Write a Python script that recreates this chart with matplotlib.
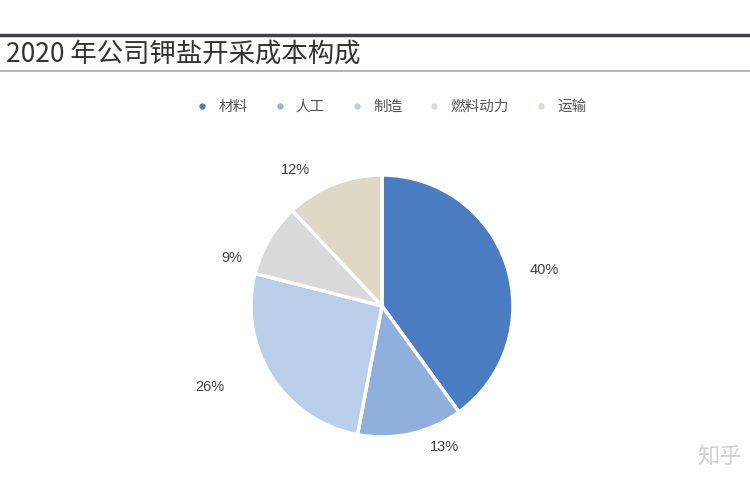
import numpy as np
import matplotlib
matplotlib.use("Agg")
import matplotlib.pyplot as plt
from matplotlib.lines import Line2D

plt.rcParams['font.family'] = ['Noto Sans CJK SC', 'DejaVu Sans']

title = "2020 年公司钾盐开采成本构成"
categories = ["材料", "人工", "制造", "燃料动力", "运输"]
values = [40, 13, 26, 9, 12]
colors = ["#4a7cc1", "#8fafdc", "#b9cee9", "#d9d9d9", "#ddd9c4"]
label_dist = [1.27, 1.18, 1.45, 1.20, 1.23]
label_shift = [-5.5, 11.3, -7.2, 12.9, 10.7]  # degrees offset from wedge middle

fig = plt.figure(figsize=(7.5, 5), dpi=100)
fig.patch.set_facecolor("white")

# header rules
fig.add_artist(Line2D([0, 1], [1 - 35/500, 1 - 35/500], color="#3f4150", lw=2.5))
fig.add_artist(Line2D([0, 1], [1 - 71/500, 1 - 71/500], color="#b5b5b5", lw=1.5))
fig.text(6/750, 1 - 54/500, title, fontsize=19, color="#333333", va="center", ha="left")

ax = fig.add_axes([(382-131)/750, (500-437)/500, 262/750, 262/500])
wedges, _ = ax.pie(values, colors=colors, startangle=90, counterclock=False,
                   wedgeprops=dict(edgecolor="white", linewidth=2.5))
for w, v, d, s in zip(wedges, values, label_dist, label_shift):
    ang = np.deg2rad((w.theta1 + w.theta2) / 2 + s)
    ax.text(d*np.cos(ang), d*np.sin(ang), f"{v}%", ha="center", va="center",
            fontsize=10.5, color="#404040", family=["Liberation Sans", "DejaVu Sans"])
ax.set_xlim(-1, 1); ax.set_ylim(-1, 1)
ax.set_aspect("equal")

handles = [Line2D([], [], marker="o", ls="", markersize=3.5, color=c) for c in colors]
fig.legend(handles, categories, loc="center", bbox_to_anchor=(387/750, 1 - 107/500),
           ncol=5, frameon=False, fontsize=10.5, handletextpad=0.1, columnspacing=1.2,
           labelcolor="#555555")

fig.text(697/750, 1 - 457/500, "知乎", fontsize=16, color="#d0d0d0", va="center", ha="left")

fig.savefig("out.png", dpi=100, facecolor="white")
